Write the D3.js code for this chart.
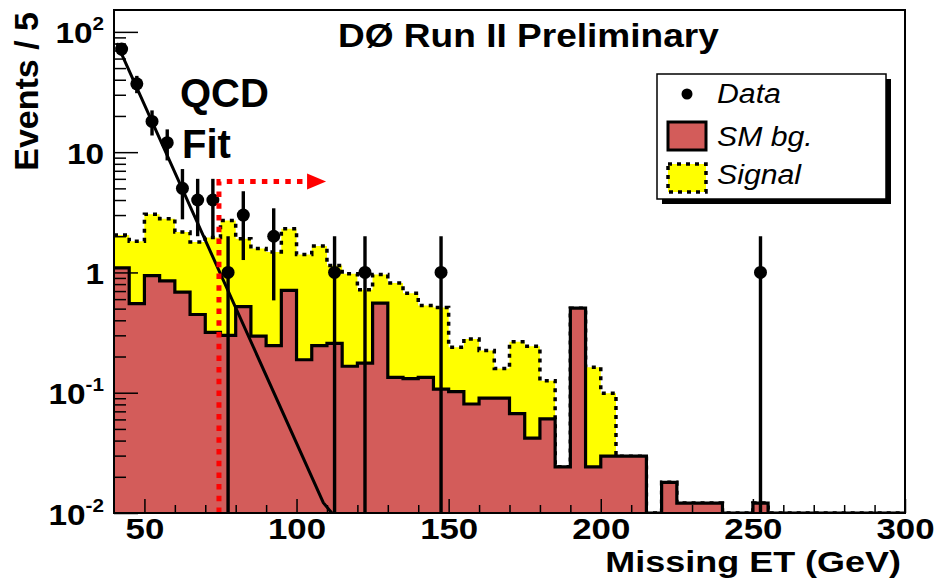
<!DOCTYPE html>
<html>
<head>
<meta charset="utf-8">
<script src="https://cdn.jsdelivr.net/npm/d3@7"></script>
<style>
  body { margin: 0; background: #fff; }
  svg { display: block; font-family: "Liberation Sans", Arial, Helvetica, sans-serif; }
</style>
</head>
<body>
<svg id="chart" width="937" height="580"></svg>
<script>
// histogram binning (GeV)
const binStart = 40;
const binWidth = 5;

// SM background, 5 GeV bins from 40 to 300
const smBg = [
  1.09, 0.55, 0.94, 0.85, 0.685, 0.447, 0.318, 0.30, 0.52, 0.295,
  0.246, 0.71, 0.188, 0.246, 0.257, 0.166, 0.176, 0.555, 0.134, 0.131,
  0.134, 0.107, 0.102, 0.0806, 0.090, 0.090, 0.067, 0.042, 0.0605, 0.0242,
  0.505, 0.0242, 0.0297, 0.0297, 0.0297, 0, 0.018, 0.0121, 0.0121, 0.0121,
  0, 0, 0.0121, 0, 0, 0, 0, 0, 0, 0, 0, 0
];

// SM background + signal (stacked)
const smPlusSignal = [
  2.05, 1.82, 3.04, 2.8, 2.17, 1.79, 1.95, 2.7, 1.91, 1.58,
  1.48, 2.31, 1.41, 1.66, 1.14, 0.975, 0.717, 0.96, 0.815, 0.672,
  0.53, 0.51, 0.239, 0.28, 0.224, 0.159, 0.265, 0.243, 0.126, 0.0242,
  0.505, 0.163, 0.099, 0.0297, 0.0297, 0, 0.018, 0.0121, 0.0121, 0.0121,
  0, 0, 0.0121, 0, 0, 0, 0, 0, 0, 0, 0, 0
];

// observed events per bin
const dataCounts = [
  72, 37, 18, 12, 5, 4, 4, 1, 3, 0,
  2, 0, 0, 0, 1, 0, 1, 0, 0, 0,
  0, 1, 0, 0, 0, 0, 0, 0, 0, 0,
  0, 0, 0, 0, 0, 0, 0, 0, 0, 0,
  0, 0, 1, 0, 0, 0, 0, 0, 0, 0, 0, 0
];

// QCD exponential fit
const fitE = [40.9, 108.8, 111.6];
const fitVal = [80.5, 0.0122, 0.01];

// cut line and arrow
const cutE = 74.5;
const arrowEndE = 109.7;
const arrowVal = 5.7;

const xMajorTicks = [50, 100, 150, 200, 250, 300];
const xMinorTicks = [60, 70, 80, 90, 110, 120, 130, 140, 160, 170, 180, 190, 210, 220, 230, 240, 260, 270, 280, 290];
const yTickVals = [0.01, 0.1, 1, 10, 100];
const yTickText = [["10", "-2"], ["10", "-1"], ["1", ""], ["10", ""], ["10", "2"]];
const yMin = 0.01;
const yMax = 152;

const legendLabels = ["Data", "SM bg.", "Signal"];

const bgColor = "#d35c5a";
const sigColor = "#ffff00";

const svg = d3.select("#chart");
const frame = {left: 114, top: 10, right: 905, bottom: 513};

const x = d3.scaleLinear().domain([binStart, 300]).range([frame.left, frame.right]);
const y = d3.scaleLog().domain([yMin, yMax]).range([frame.bottom, frame.top]);
const yv = v => y(v > yMin ? v : yMin);

svg.append("rect").attr("width", 937).attr("height", 580).attr("fill", "#fff");

svg.append("defs").append("clipPath").attr("id", "frameClip")
  .append("rect")
  .attr("x", frame.left).attr("y", frame.top)
  .attr("width", frame.right - frame.left).attr("height", frame.bottom - frame.top);

const plot = svg.append("g").attr("clip-path", "url(#frameClip)");

function steps(vals) {
  const pts = vals.map((v, i) => [binStart + i * binWidth, v]);
  pts.push([binStart + vals.length * binWidth, vals[vals.length - 1]]);
  return pts;
}

const area = d3.area()
  .curve(d3.curveStepAfter)
  .x(d => x(d[0]))
  .y0(frame.bottom)
  .y1(d => yv(d[1]));

const line = d3.line()
  .curve(d3.curveStepAfter)
  .x(d => x(d[0]))
  .y(d => yv(d[1]));

// signal stacked on top of background
plot.append("path")
  .attr("d", area(steps(smPlusSignal)))
  .attr("fill", sigColor);
plot.append("path")
  .attr("d", line(steps(smPlusSignal)))
  .attr("fill", "none")
  .attr("stroke", "#000")
  .attr("stroke-width", 3.5)
  .attr("stroke-dasharray", "4,5");

plot.append("path")
  .attr("d", area(steps(smBg)))
  .attr("fill", bgColor);
plot.append("path")
  .attr("d", line(steps(smBg)))
  .attr("fill", "none")
  .attr("stroke", "#000")
  .attr("stroke-width", 3.2)
  .attr("stroke-linejoin", "miter");

// QCD fit
plot.append("path")
  .attr("d", d3.line().x(d => x(d[0])).y(d => yv(d[1]))(fitE.map((e, i) => [e, fitVal[i]])))
  .attr("fill", "none")
  .attr("stroke", "#000")
  .attr("stroke-width", 3);

// data points with sqrt(N) errors
const points = dataCounts
  .map((n, i) => ({e: binStart + (i + 0.5) * binWidth, n: n}))
  .filter(d => d.n > 0);

plot.append("g").selectAll("line")
  .data(points)
  .join("line")
  .attr("x1", d => x(d.e)).attr("x2", d => x(d.e))
  .attr("y1", d => yv(d.n + Math.sqrt(d.n)))
  .attr("y2", d => yv(d.n - Math.sqrt(d.n)))
  .attr("stroke", "#000")
  .attr("stroke-width", 3.4);

plot.append("g").selectAll("circle")
  .data(points)
  .join("circle")
  .attr("cx", d => x(d.e))
  .attr("cy", d => yv(d.n))
  .attr("r", 6.5)
  .attr("fill", "#000");

// cut and arrow
const cut = svg.append("g");
cut.append("path")
  .attr("d", `M${x(cutE)},${frame.bottom}V${y(arrowVal)}H${x(arrowEndE) - 18}`)
  .attr("fill", "none")
  .attr("stroke", "#ff0000")
  .attr("stroke-width", 5)
  .attr("stroke-dasharray", "5.5,6.2");
cut.append("path")
  .attr("d", `M${x(arrowEndE)},${y(arrowVal)}L${x(arrowEndE) - 19},${y(arrowVal) - 8}L${x(arrowEndE) - 19},${y(arrowVal) + 8}Z`)
  .attr("fill", "#ff0000");

// axes
const xMajor = d3.axisBottom(x).tickValues(xMajorTicks).tickSize(-14).tickSizeOuter(0).tickPadding(5);
const xMinor = d3.axisBottom(x).tickValues(xMinorTicks).tickSize(-8).tickSizeOuter(0).tickFormat("");

const gx = svg.append("g").attr("transform", `translate(0,${frame.bottom})`).call(xMajor);
svg.append("g").attr("transform", `translate(0,${frame.bottom})`).call(xMinor)
  .call(g => g.select(".domain").remove());
gx.select(".domain").remove();
gx.selectAll("text")
  .attr("font-size", 29)
  .attr("font-weight", "bold")
  .attr("fill", "#000")
  .attr("font-family", "Liberation Sans, Arial, sans-serif")
  .attr("transform", "scale(1.2,1)");

const yMinorVals = [];
yTickVals.forEach(v => {
  for (let k = 2; k <= 9; k++) if (v * k < yMax) yMinorVals.push(v * k);
});

const gy = svg.append("g").attr("transform", `translate(${frame.left},0)`)
  .call(d3.axisLeft(y).tickValues(yTickVals).tickSize(-24).tickSizeOuter(0).tickFormat(""));
svg.append("g").attr("transform", `translate(${frame.left},0)`)
  .call(d3.axisLeft(y).tickValues(yMinorVals).tickSize(-12).tickSizeOuter(0).tickFormat(""))
  .call(g => g.select(".domain").remove());
gy.select(".domain").remove();
svg.selectAll(".tick line").attr("stroke", "#000").attr("stroke-width", 1.5);

const yLab = gy.selectAll(".tick").append("text")
  .attr("fill", "#000")
  .attr("text-anchor", "end")
  .attr("font-weight", "bold")
  .attr("font-family", "Liberation Sans, Arial, sans-serif")
  .attr("transform", "translate(-10,11) scale(1.15,1)");
yLab.each(function(d, i) {
  const t = d3.select(this);
  t.append("tspan").attr("font-size", 29).text(yTickText[i][0]);
  if (yTickText[i][1]) {
    t.append("tspan").attr("font-size", 18).attr("dy", -13).text(yTickText[i][1]);
  }
});

// frame
svg.append("rect")
  .attr("x", frame.left).attr("y", frame.top)
  .attr("width", frame.right - frame.left).attr("height", frame.bottom - frame.top)
  .attr("fill", "none")
  .attr("stroke", "#000")
  .attr("stroke-width", 2);

// axis titles
svg.append("text")
  .attr("transform", "translate(901,572) scale(1.24,1)")
  .attr("text-anchor", "end")
  .attr("font-size", 29)
  .attr("font-weight", "bold")
  .text("Missing ET (GeV)");

svg.append("text")
  .attr("transform", "translate(38,12) rotate(-90)")
  .attr("text-anchor", "end")
  .attr("font-size", 34)
  .attr("font-weight", "bold")
  .text("Events / 5");

svg.append("text")
  .attr("transform", "translate(338,47) scale(1.09,1)")
  .attr("font-size", 34)
  .attr("font-weight", "bold")
  .text("DØ Run II Preliminary");

svg.append("text")
  .attr("x", 180).attr("y", 107)
  .attr("font-size", 40)
  .attr("font-weight", "bold")
  .text("QCD");
svg.append("text")
  .attr("x", 182).attr("y", 158)
  .attr("font-size", 40)
  .attr("font-weight", "bold")
  .text("Fit");

// legend
const leg = svg.append("g");
leg.append("rect").attr("x", 662).attr("y", 79).attr("width", 229).attr("height", 125).attr("fill", "#000");
leg.append("rect").attr("x", 657).attr("y", 74).attr("width", 229).attr("height", 125)
  .attr("fill", "#fff").attr("stroke", "#000").attr("stroke-width", 1.5);

leg.append("circle").attr("cx", 687).attr("cy", 94).attr("r", 5.5).attr("fill", "#000");
leg.append("rect").attr("x", 668).attr("y", 122).attr("width", 38).attr("height", 28)
  .attr("fill", bgColor).attr("stroke", "#000").attr("stroke-width", 3);
leg.append("rect").attr("x", 668).attr("y", 164).attr("width", 38).attr("height", 28)
  .attr("fill", sigColor).attr("stroke", "#000").attr("stroke-width", 3.5).attr("stroke-dasharray", "4,5");

const legY = [103, 146, 184];
leg.selectAll("text.lab")
  .data(legendLabels)
  .join("text")
  .attr("class", "lab")
  .attr("transform", (d, i) => `translate(717,${legY[i]}) scale(1.12,1)`)
  .attr("font-size", 27)
  .attr("font-style", "italic")
  .text(d => d);
</script>
</body>
</html>
